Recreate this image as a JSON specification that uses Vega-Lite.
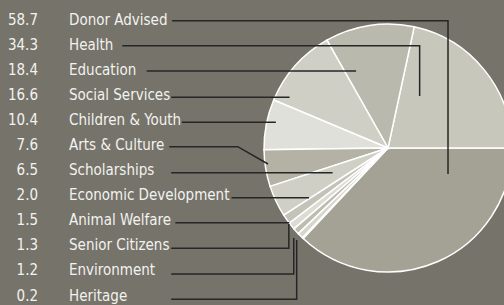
{
  "$schema": "https://vega.github.io/schema/vega-lite/v6.json",
  "width": 504,
  "height": 305,
  "autosize": {"type": "fit", "contains": "padding"},
  "padding": 0,
  "background": "#76736b",
  "config": {"view": {"stroke": null}},
  "datasets": {
    "slices": [
      {"name": "Donor Advised", "value": 58.7, "slice": 1},
      {"name": "Health", "value": 34.3, "slice": 12},
      {"name": "Education", "value": 18.4, "slice": 11},
      {"name": "Social Services", "value": 16.6, "slice": 10},
      {"name": "Children & Youth", "value": 10.4, "slice": 9},
      {"name": "Arts & Culture", "value": 7.6, "slice": 8},
      {"name": "Scholarships", "value": 6.5, "slice": 7},
      {"name": "Economic Development", "value": 2.0, "slice": 6},
      {"name": "Animal Welfare", "value": 1.5, "slice": 5},
      {"name": "Senior Citizens", "value": 1.3, "slice": 4},
      {"name": "Environment", "value": 1.2, "slice": 3},
      {"name": "Heritage", "value": 0.2, "slice": 2}
    ],
    "leaders": [
      {"name": "Donor Advised", "i": 1, "px": 176, "py": 20.7},
      {"name": "Donor Advised", "i": 2, "px": 458, "py": 20.7},
      {"name": "Donor Advised", "i": 3, "px": 458, "py": 174},
      {"name": "Health", "i": 1, "px": 125, "py": 45.7},
      {"name": "Health", "i": 2, "px": 429, "py": 45.7},
      {"name": "Health", "i": 3, "px": 429, "py": 96},
      {"name": "Education", "i": 1, "px": 150, "py": 71},
      {"name": "Education", "i": 2, "px": 364, "py": 71},
      {"name": "Social Services", "i": 1, "px": 175, "py": 97.3},
      {"name": "Social Services", "i": 2, "px": 296, "py": 97.3},
      {"name": "Children & Youth", "i": 1, "px": 186, "py": 122.3},
      {"name": "Children & Youth", "i": 2, "px": 282, "py": 122.3},
      {"name": "Arts & Culture", "i": 1, "px": 173, "py": 146.7},
      {"name": "Arts & Culture", "i": 2, "px": 243, "py": 146.7},
      {"name": "Arts & Culture", "i": 3, "px": 274, "py": 164},
      {"name": "Scholarships", "i": 1, "px": 175, "py": 172.7},
      {"name": "Scholarships", "i": 2, "px": 340, "py": 172.7},
      {"name": "Economic Development", "i": 1, "px": 236.7, "py": 197.7},
      {"name": "Economic Development", "i": 2, "px": 316, "py": 197.7},
      {"name": "Animal Welfare", "i": 1, "px": 179.3, "py": 222.7},
      {"name": "Animal Welfare", "i": 2, "px": 295.7, "py": 222.7},
      {"name": "Senior Citizens", "i": 1, "px": 175, "py": 248.3},
      {"name": "Senior Citizens", "i": 2, "px": 295.3, "py": 248.3},
      {"name": "Senior Citizens", "i": 3, "px": 295.3, "py": 224},
      {"name": "Environment", "i": 1, "px": 175, "py": 274},
      {"name": "Environment", "i": 2, "px": 300.3, "py": 274},
      {"name": "Environment", "i": 3, "px": 300.3, "py": 238},
      {"name": "Heritage", "i": 1, "px": 175, "py": 299.3},
      {"name": "Heritage", "i": 2, "px": 303.3, "py": 299.3},
      {"name": "Heritage", "i": 3, "px": 303.3, "py": 240}
    ]
  },
  "layer": [
    {
      "data": {"name": "slices"},
      "mark": {"type": "arc", "x": 388, "y": 148, "outerRadius": 124, "stroke": "#ffffff", "strokeWidth": 1.5},
      "encoding": {
        "theta": {"field": "value", "type": "quantitative", "stack": true, "scale": {"range": [1.5707963, 7.8539816]}},
        "order": {"field": "slice", "type": "quantitative"},
        "color": {
          "field": "name", "type": "nominal", "legend": null,
          "scale": {
            "domain": ["Donor Advised", "Health", "Education", "Social Services", "Children & Youth", "Arts & Culture", "Scholarships", "Economic Development", "Animal Welfare", "Senior Citizens", "Environment", "Heritage"],
            "range": ["#a3a294", "#c8c7bb", "#bab9ad", "#d0cfc5", "#e0e0da", "#b3b2a4", "#cfcfc6", "#c4c3b8", "#dcdcd5", "#bdbcb0", "#d6d6cd", "#c8c7bb"]
          }
        }
      }
    },
    {
      "data": {"name": "leaders"},
      "mark": {"type": "line", "stroke": "#262626", "strokeWidth": 1.5, "interpolate": "linear"},
      "encoding": {
        "x": {"field": "px", "type": "quantitative", "scale": {"domain": [0, 504]}, "axis": null},
        "y": {"field": "py", "type": "quantitative", "scale": {"domain": [0, 305], "reverse": true}, "axis": null},
        "detail": {"field": "name"},
        "order": {"field": "i", "type": "quantitative"}
      }
    },
    {
      "data": {"name": "slices"},
      "mark": {"type": "text", "align": "right", "baseline": "alphabetic", "x": 38, "font": "DejaVu Sans Condensed", "fontSize": 15, "color": "#f2f2ee"},
      "encoding": {
        "y": {"field": "name", "type": "nominal", "sort": null, "scale": {"type": "point", "range": [25, 300.5], "padding": 0}, "axis": null},
        "text": {"field": "value", "type": "quantitative", "format": ".1f"}
      }
    },
    {
      "data": {"name": "slices"},
      "mark": {"type": "text", "align": "left", "baseline": "alphabetic", "x": 69, "font": "DejaVu Sans Condensed", "fontSize": 15, "color": "#f2f2ee"},
      "encoding": {
        "y": {"field": "name", "type": "nominal", "sort": null, "scale": {"type": "point", "range": [25, 300.5], "padding": 0}, "axis": null},
        "text": {"field": "name", "type": "nominal"}
      }
    }
  ],
  "resolve": {"scale": {"y": "independent"}}
}
